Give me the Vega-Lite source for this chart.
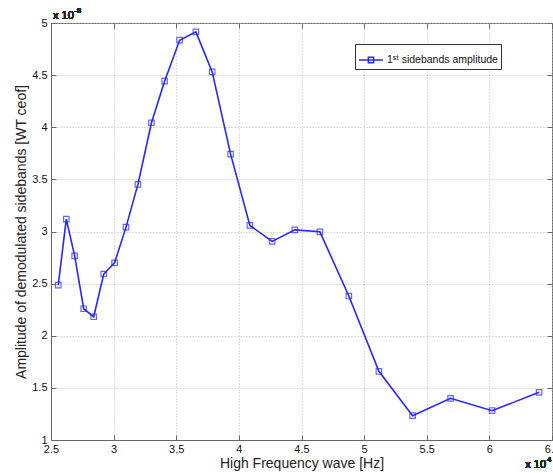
{
  "$schema": "https://vega.github.io/schema/vega-lite/v6.json",
  "width": 501,
  "height": 417,
  "autosize": {"type": "none"},
  "padding": {"left": 51, "top": 23, "right": 1, "bottom": 33},
  "background": "white",
  "config": {
    "font": "Liberation Sans",
    "view": {"stroke": "#666", "strokeWidth": 1},
    "axis": {
      "domainColor": "#666",
      "tickColor": "#666",
      "labelColor": "#111",
      "titleColor": "#222",
      "labelFont": "Liberation Sans",
      "titleFont": "Liberation Sans",
      "labelFontSize": 11,
      "titleFontSize": 14,
      "titleFontWeight": "normal",
      "gridColor": "#b8b8b8",
      "gridDash": [1, 2],
      "gridWidth": 1
    }
  },
  "resolve": {"axis": {"x": "independent", "y": "independent"}},
  "data": {
    "values": [
      {"f": 2.558, "a": 2.486},
      {"f": 2.622, "a": 3.119},
      {"f": 2.689, "a": 2.767},
      {"f": 2.761, "a": 2.259},
      {"f": 2.841, "a": 2.182},
      {"f": 2.921, "a": 2.592},
      {"f": 3.008, "a": 2.7},
      {"f": 3.099, "a": 3.042},
      {"f": 3.194, "a": 3.452},
      {"f": 3.302, "a": 4.043},
      {"f": 3.407, "a": 4.442},
      {"f": 3.527, "a": 4.835},
      {"f": 3.657, "a": 4.915},
      {"f": 3.787, "a": 4.531},
      {"f": 3.934, "a": 3.742},
      {"f": 4.088, "a": 3.058},
      {"f": 4.266, "a": 2.905},
      {"f": 4.447, "a": 3.016},
      {"f": 4.647, "a": 2.997},
      {"f": 4.878, "a": 2.381},
      {"f": 5.118, "a": 1.659},
      {"f": 5.387, "a": 1.233},
      {"f": 5.69, "a": 1.4},
      {"f": 6.022, "a": 1.281},
      {"f": 6.397, "a": 1.457}
    ]
  },
  "layer": [
    {
      "mark": {"type": "line", "strokeWidth": 1.6},
      "encoding": {
        "x": {
          "field": "f", "type": "quantitative",
          "scale": {"domain": [2.5, 6.5], "nice": false, "zero": false},
          "axis": {
            "title": "High Frequency wave [Hz]",
            "values": [2.5, 3, 3.5, 4, 4.5, 5, 5.5, 6, 6.5],
            "format": "~g",
            "tickSize": -5,
            "labelPadding": 8,
            "titlePadding": 2,
            "labelFlush": false,
            "labelOverlap": false
          }
        },
        "y": {
          "field": "a", "type": "quantitative",
          "scale": {"domain": [1, 5], "nice": false, "zero": false},
          "axis": {
            "title": "Amplitude of demodulated sidebands [WT ceof]",
            "values": [1, 1.5, 2, 2.5, 3, 3.5, 4, 4.5, 5],
            "format": "~g",
            "tickSize": -5,
            "labelPadding": 9,
            "titlePadding": 3,
            "labelFlush": false,
            "labelOverlap": false
          }
        },
        "color": {
          "datum": "1ˢᵗ sidebands amplitude",
          "type": "nominal",
          "scale": {"range": ["#2626ff"]},
          "legend": {
            "title": null,
            "orient": "none",
            "legendX": 304,
            "legendY": 21,
            "fillColor": "white",
            "strokeColor": "#333",
            "padding": 3,
            "symbolType": "M-1,0H1M-0.22,-0.22H0.22V0.22H-0.22Z",
            "symbolSize": 576,
            "symbolStrokeWidth": 1.5,
            "symbolFillColor": "transparent",
            "labelFontSize": 10.5,
            "labelFont": "Liberation Sans",
            "labelColor": "#111",
            "labelOffset": 3
          }
        }
      }
    },
    {
      "mark": {"type": "point", "shape": "square", "filled": false, "size": 30, "strokeWidth": 1.2, "color": "#2626ff"},
      "encoding": {
        "x": {"field": "f", "type": "quantitative", "axis": null},
        "y": {"field": "a", "type": "quantitative", "axis": null}
      }
    },
    {
      "mark": {"type": "text", "text": "x 10", "align": "left", "baseline": "alphabetic", "dx": 2, "dy": -4, "fontSize": 11, "color": "#222"},
      "encoding": {
        "x": {"datum": 2.5, "type": "quantitative", "axis": {"orient": "top", "labels": false, "title": null, "grid": false, "domain": false, "tickSize": -5, "values": [2.5, 3, 3.5, 4, 4.5, 5, 5.5, 6, 6.5]}},
        "y": {"datum": 5, "type": "quantitative", "axis": {"orient": "right", "labels": false, "title": null, "grid": false, "domain": false, "tickSize": -5, "values": [1, 1.5, 2, 2.5, 3, 3.5, 4, 4.5, 5]}}
      }
    },
    {
      "mark": {"type": "text", "text": "-8", "align": "left", "baseline": "alphabetic", "dx": 23, "dy": -10, "fontSize": 8, "color": "#222"},
      "encoding": {
        "x": {"datum": 2.5, "type": "quantitative", "axis": null},
        "y": {"datum": 5, "type": "quantitative", "axis": null}
      }
    },
    {
      "mark": {"type": "text", "text": "x 10", "align": "right", "baseline": "alphabetic", "dx": -6, "dy": 28, "fontSize": 11, "color": "#222"},
      "encoding": {
        "x": {"datum": 6.5, "type": "quantitative", "axis": null},
        "y": {"datum": 1, "type": "quantitative", "axis": null}
      }
    },
    {
      "mark": {"type": "text", "text": "4", "align": "left", "baseline": "alphabetic", "dx": -5, "dy": 22, "fontSize": 8, "color": "#222"},
      "encoding": {
        "x": {"datum": 6.5, "type": "quantitative", "axis": null},
        "y": {"datum": 1, "type": "quantitative", "axis": null}
      }
    }
  ]
}
